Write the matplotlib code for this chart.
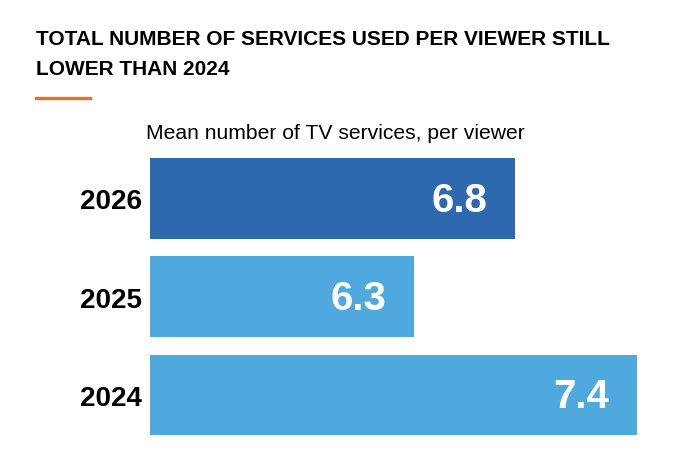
import matplotlib

matplotlib.use("Agg")
from matplotlib import pyplot as plt
from matplotlib.lines import Line2D

# chart data
years = ["2024", "2025", "2026"]
values = [7.4, 6.3, 6.8]
barColors = ["#4FA8DE", "#4FA8DE", "#2E68AE"]
titleLines = ["TOTAL NUMBER OF SERVICES USED PER VIEWER STILL", "LOWER THAN 2024"]
subtitle = "Mean number of TV services, per viewer"

W, H = 694, 460
plt.rcParams["font.family"] = ["Liberation Sans", "DejaVu Sans"]

fig = plt.figure(figsize=(W / 100, H / 100), dpi=100)

# axes placed in pixel terms: bars from x=150, 2024 bar centred near y=396
axLeft, axRight = 150, 660
axTop, axBottom = 150.3, 444.9
ax = fig.add_axes(
    [axLeft / W, (H - axBottom) / H, (axRight - axLeft) / W, (axBottom - axTop) / H]
)

ypos = list(range(len(years)))
ax.barh(ypos, values, height=0.82, color=barColors, left=0)
ax.set_xlim(5.0, 5.0 + (axRight - axLeft) / 203.0)
ax.set_ylim(-0.5, len(years) - 0.5)

for y, v in zip(ypos, values):
    ax.annotate(
        f"{v:.1f}",
        xy=(v, y),
        xytext=(-20, -1),
        textcoords="offset points",
        ha="right",
        va="center",
        color="white",
        fontsize=29,
        fontweight="bold",
    )

ax.set_yticks(ypos)
ax.set_yticklabels(years, fontsize=20, fontweight="bold")
ax.tick_params(axis="y", length=0, pad=6)
ax.set_xticks([])
for side in ax.spines.values():
    side.set_visible(False)

# title block
for i, line in enumerate(titleLines):
    fig.text(
        36.5 / W,
        (H - 45 - 30 * i) / H,
        line,
        fontsize=15,
        fontweight="bold",
        va="baseline",
        ha="left",
        color="black",
    )
fig.add_artist(
    Line2D(
        [36 / W, 90 / W],
        [(H - 99) / H, (H - 99) / H],
        color="#E8702A",
        linewidth=2.4,
        transform=fig.transFigure,
    )
)
fig.text(146 / W, (H - 139.3) / H, subtitle, fontsize=15.2, va="baseline", ha="left")

fig.savefig("out.png", dpi=100)
